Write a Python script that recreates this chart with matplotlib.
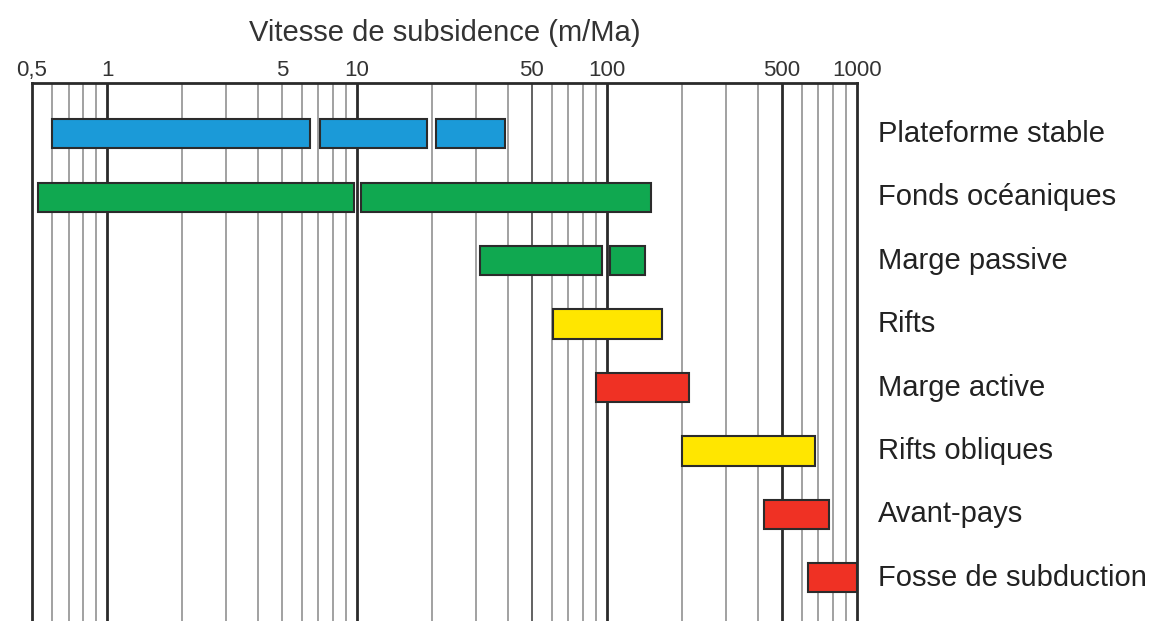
import matplotlib.pyplot as plt
import numpy as np
from matplotlib.transforms import blended_transform_factory

plt.rcParams['font.family'] = ['Liberation Sans', 'DejaVu Sans']

categories = ["Plateforme stable", "Fonds océaniques", "Marge passive", "Rifts",
              "Marge active", "Rifts obliques", "Avant-pays", "Fosse de subduction"]

# one entry per bar segment (row index, low, high in m/Ma)
seg_row = [0, 0, 0, 1, 1, 2, 2, 3, 4, 5, 6, 7]
seg_low = [0.6, 7.1, 20.6, 0.53, 10.4, 31, 103, 61, 90, 200, 425, 638]
seg_high = [6.5, 19, 39, 9.7, 150, 95, 142, 166, 212, 680, 773, 1000]

row_colors = ["#1b9ad8", "#10a850", "#10a850", "#ffe600",
              "#ef3124", "#ffe600", "#ef3124", "#ef3124"]

tick_values = [0.5, 1, 5, 10, 50, 100, 500, 1000]
tick_labels = ["0,5", "1", "5", "10", "50", "100", "500", "1000"]


def main():
    fig = plt.figure(figsize=(11.49, 6.21), dpi=100)
    ax = fig.add_axes([32 / 1149, 0, 825 / 1149, 538 / 621])

    ax.set_xscale("log")
    ax.set_xlim(0.5, 1000)
    ax.set_ylim(7.68, -0.80)

    # vertical grid
    grid = [0.6, 0.7, 0.8, 0.9]
    for dec in [1, 10, 100]:
        grid += [dec * k for k in range(2, 10)]
    strong = [1, 10, 100, 500]
    for g in grid:
        if g in strong:
            continue
        col = "#555555" if g == 50 else "#9a9a9a"
        ax.axvline(g, color=col, lw=1.3, zorder=1)
    for g in strong:
        ax.axvline(g, color="#2a2a2a", lw=2.0, zorder=1)

    for r, lo, hi in zip(seg_row, seg_low, seg_high):
        ax.barh(r, hi - lo, left=lo, height=0.46, color=row_colors[r],
                edgecolor="#2b2b2b", linewidth=1.5, zorder=3)

    trans = blended_transform_factory(ax.transAxes, ax.transData)
    for i, name in enumerate(categories):
        ax.text(1 + 21 / 825, i, name, transform=trans, ha="left", va="center",
                fontsize=21, color="#222222")

    ax.xaxis.tick_top()
    ax.set_xticks(tick_values)
    ax.set_xticklabels(tick_labels)
    ax.xaxis.set_minor_locator(plt.NullLocator())
    ax.tick_params(axis="x", length=0, pad=1.5, labelsize=16, labelcolor="#333333")
    ax.set_yticks([])

    ax.set_title("Vitesse de subsidence (m/Ma)", fontsize=21, color="#333333", pad=30)

    ax.spines["bottom"].set_visible(False)
    for s in ["top", "left", "right"]:
        ax.spines[s].set_color("#2a2a2a")
        ax.spines[s].set_linewidth(2.0)

    fig.savefig("out.png", dpi=100)


if __name__ == "__main__":
    main()
